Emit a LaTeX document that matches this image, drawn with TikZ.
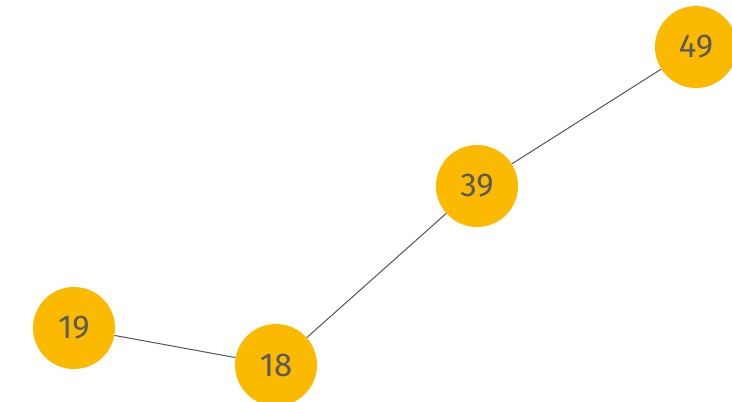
\documentclass[tikz,border=0pt]{standalone}
\usepackage{fontspec}
\setmainfont{Fira Sans}
\definecolor{nodefill}{HTML}{FBBA00}
\definecolor{txtgray}{HTML}{5A5A5A}
\definecolor{edgegray}{HTML}{555555}
\begin{document}
\begin{tikzpicture}[x=1pt,y=-1pt,
  vertex/.style={circle,fill=nodefill,minimum size=82pt,inner sep=0pt,text=txtgray,font=\fontsize{33}{40}\selectfont},
  edge/.style={draw=edgegray,line width=1pt}]
\useasboundingbox (0,0) rectangle (732,402);
\begin{scope}
\clip (0,0) rectangle (732,402);
\node[vertex] (n49) at (696,47) {49};
\node[vertex] (n39) at (477,186) {39};
\node[vertex] (n19) at (74,328) {19};
\node[vertex] (n18) at (276,365) {18};
\end{scope}
\draw[edge] (n49) -- (n39);
\draw[edge] (n39) -- (n18);
\draw[edge] (n19) -- (n18);
\end{tikzpicture}
\end{document}
